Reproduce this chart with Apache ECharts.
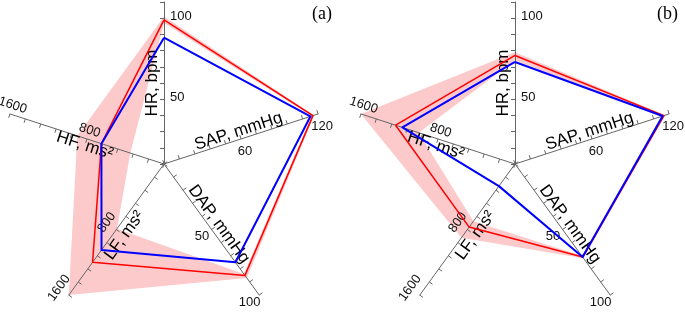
<!DOCTYPE html>
<html>
<head>
<meta charset="utf-8">
<script src="https://cdn.jsdelivr.net/npm/echarts@6/dist/echarts.min.js"></script>
<style>
  html, body { margin: 0; padding: 0; background: #fff; }
  #chart { width: 685px; height: 312px; }
</style>
</head>
<body>
<div id="chart"></div>
<script>
// axes listed counter-clockwise from the top (that's how echarts places radar indicators)
var axisNames = ['HR, bpm', 'HF, ms²', 'LF, ms²', 'DAP, mmHg', 'SAP, mmHg'];
var axisMax = [100, 1600, 1600, 100, 120];

// panel (a)
var redA = [89, 650, 1200, 85, 116];
var blueA = [78, 650, 1050, 75, 114];
var bandHighA = [91, 900, 1600, 87, 117];
var bandLowA = [87, 350, 790, 84, 115];

// panel (b)
var redB = [67, 1240, 770, 71, 116];
var blueB = [63, 1170, 270, 71, 115];
var bandHighB = [69, 1600, 900, 72, 117];
var bandLowB = [64, 1000, 700, 70, 114];

var panelTitles = ['(a)', '(b)'];

var chart = echarts.init(document.getElementById('chart'));

// how each axis writes its name and numbers
var axisLook = [
  { nameRotate: 90, nameGap: -12, label: { align: 'left', verticalAlign: 'top', margin: -6, padding: [8, 0, 0, 0] } },
  { nameRotate: -18, nameGap: -7, label: { rotate: -18, margin: -9 } },
  { nameRotate: 54, nameGap: -10, label: { rotate: 54, margin: -12 } },
  { nameRotate: -54, nameGap: -9, label: { margin: -12 } },
  { nameRotate: 18, nameGap: -8, label: { margin: -13 } }
];

function makeRadar(cx) {
  return {
    center: [cx, 164],
    radius: 162,
    startAngle: 90,
    splitNumber: 10,
    shape: 'polygon',
    z: 2,
    splitLine: { show: false },
    splitArea: { show: false },
    axisLine: { lineStyle: { color: '#666', width: 1 } },
    axisTick: { show: true, length: 4, lineStyle: { color: '#666' } },
    axisLabel: {
      show: true,
      color: '#111',
      fontSize: 13,
      fontFamily: 'Liberation Sans',
      align: 'center',
      verticalAlign: 'middle',
      formatter: function (v, idx) {
        return (idx === 5 || idx === 10) ? String(v) : '';
      }
    },
    axisName: {
      color: '#000',
      fontSize: 17,
      fontFamily: 'Liberation Sans',
      align: 'center',
      verticalAlign: 'middle'
    },
    indicator: axisNames.map(function (n, k) {
      return {
        name: n,
        min: 0,
        max: axisMax[k],
        nameLocation: 'middle',
        nameMoveOverlap: false,
        nameGap: axisLook[k].nameGap,
        nameRotate: axisLook[k].nameRotate,
        axisLabel: axisLook[k].label
      };
    })
  };
}

function bandSeries(ri, high, low) {
  return {
    type: 'radar',
    radarIndex: ri,
    z: 1,
    symbol: 'none',
    silent: true,
    lineStyle: { width: 0, opacity: 0 },
    data: [
      { value: high, areaStyle: { color: '#fccaca', opacity: 1 } },
      { value: low, areaStyle: { color: '#ffffff', opacity: 1 } }
    ]
  };
}

function lineSeries(ri, red, blue) {
  return {
    type: 'radar',
    radarIndex: ri,
    z: 3,
    symbol: 'none',
    data: [
      { value: red, lineStyle: { color: '#ff0000', width: 1.5 } },
      { value: blue, lineStyle: { color: '#0000ff', width: 2 } }
    ]
  };
}

var titleStyle = { fontFamily: 'Liberation Serif', fontWeight: 'normal', fontSize: 18, color: '#000' };

var option = {
  animation: false,
  backgroundColor: '#fff',
  title: [
    { text: panelTitles[0], left: 312, top: 5, padding: 0, textStyle: titleStyle },
    { text: panelTitles[1], left: 657, top: 5, padding: 0, textStyle: titleStyle }
  ],
  radar: [makeRadar(164), makeRadar(515)],
  series: [
    bandSeries(0, bandHighA, bandLowA),
    lineSeries(0, redA, blueA),
    bandSeries(1, bandHighB, bandLowB),
    lineSeries(1, redB, blueB)
  ]
};

chart.setOption(option);
</script>
</body>
</html>
